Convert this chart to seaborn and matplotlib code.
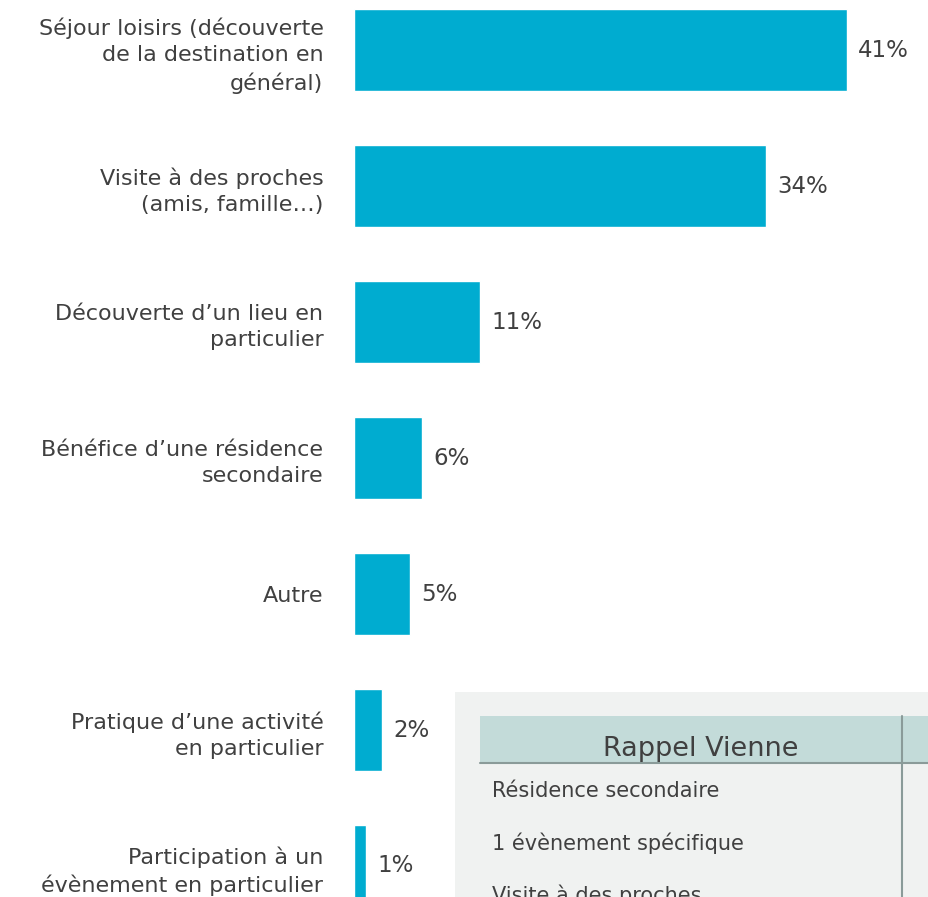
import matplotlib
matplotlib.use("Agg")
import matplotlib.pyplot as plt
import seaborn as sns
import pandas as pd
from matplotlib.patches import Rectangle

categories = [
    "Séjour loisirs (découverte\nde la destination en\ngénéral)",
    "Visite à des proches\n(amis, famille…)",
    "Découverte d’un lieu en\nparticulier",
    "Bénéfice d’une résidence\nsecondaire",
    "Autre",
    "Pratique d’une activité\nen particulier",
    "Participation à un\névènement en particulier",
]
values = [41.0, 34.3, 10.5, 5.65, 4.66, 2.33, 1.0]
value_labels = ["41%", "34%", "11%", "6%", "5%", "2%", "1%"]

table_title = "Rappel Vienne"
table_rows = ["Résidence secondaire", "1 évènement spécifique", "Visite à des proches"]

sns.set_theme(style="white")
plt.rcParams['font.family'] = ['DejaVu Sans']

W, H = 929, 897
fig = plt.figure(figsize=(W / 100, H / 100), dpi=100)
ax = fig.add_axes([354 / W, 0, (W - 354) / W, 1])

df = pd.DataFrame({"cat": categories, "val": values})
sns.barplot(data=df, y="cat", x="val", orient="h", color="#00acd0",
            saturation=1, width=0.6, ax=ax)

px_per_unit = 493 / 41
ax.set_xlim(0, (W - 354) / px_per_unit)
ax.set_ylim(6.228, -0.368)
for s in ax.spines.values():
    s.set_visible(False)
ax.set_xticks([])
ax.set_xlabel("")
ax.set_ylabel("")
ax.tick_params(axis="y", length=0, pad=22)
for lbl in ax.get_yticklabels():
    lbl.set_fontsize(16)
    lbl.set_color("#404040")
    lbl.set_linespacing(1.4)
    lbl.set_horizontalalignment("right")
    lbl.set_multialignment("right")

for i, (v, t) in enumerate(zip(values, value_labels)):
    ax.annotate(t, xy=(v, i), xytext=(8, 0), textcoords="offset points",
                va="center", ha="left", fontsize=16.5, color="#404040")

# overlay table
tx0, ty0 = 455, 692
tax = fig.add_axes([tx0 / W, 0, (W - tx0) / W, (H - ty0) / H], zorder=5)
tax.set_xlim(tx0, W)
tax.set_ylim(H, ty0)
tax.set_facecolor("#f0f2f1")
for s in tax.spines.values():
    s.set_visible(False)
tax.set_xticks([])
tax.set_yticks([])
tax.add_patch(Rectangle((480, 716), W - 480, 47, facecolor="#c3dbd9", edgecolor="none"))
tax.plot([480, W], [763, 763], color="#8a9b99", lw=1.5)
tax.plot([902, 902], [716, H], color="#8a9b99", lw=1.5)
tax.text(701, 749, table_title, ha="center", va="center", fontsize=19.5, color="#404040")
for y, t in zip([791, 843, 895], table_rows):
    tax.text(492, y, t, ha="left", va="center", fontsize=15, color="#404040")

fig.savefig("out.png", dpi=100)
